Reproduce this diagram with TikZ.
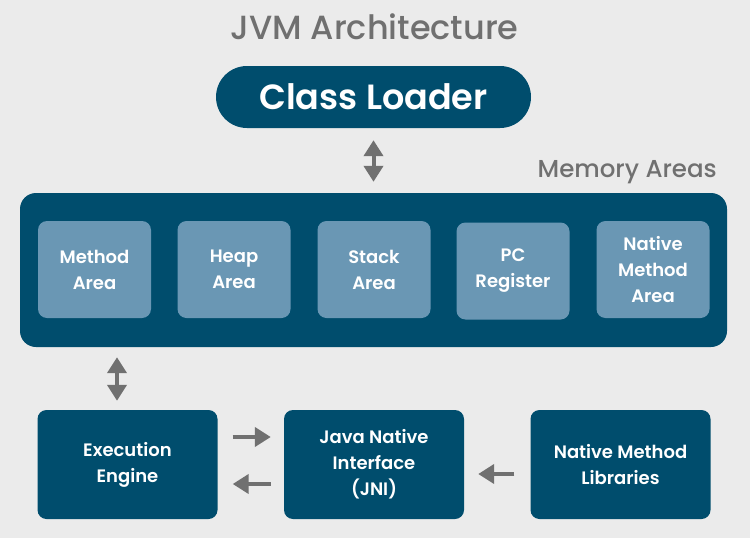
\documentclass[tikz,border=0pt]{standalone}
\usepackage{fontspec}
\setmainfont{Poppins}
\newfontfamily\medfont{Poppins Medium}
\newfontfamily\semifont{Poppins SemiBold}
\usetikzlibrary{positioning}
\usetikzlibrary{arrows.meta}
\definecolor{jvmblue}{HTML}{004D6D}
\definecolor{areablue}{HTML}{6A97B4}
\definecolor{jvmgray}{HTML}{707070}
\definecolor{jvmback}{HTML}{EBEBEB}
\tikzset{
	darkbox/.style={fill=jvmblue,rounded corners=9pt,text=white,align=center,
		minimum width=180pt,minimum height=109pt,
		font=\semifont\fontsize{18}{26}\selectfont},
	areabox/.style={fill=areablue,rounded corners=9pt,text=white,align=center,
		minimum width=113pt,minimum height=97pt,
		font=\semifont\fontsize{18}{26}\selectfont},
	grayarrow/.style={draw=jvmgray,line width=4pt,
		-{Triangle[width=19pt,length=16pt]}},
	twoarrow/.style={draw=jvmgray,line width=4pt,
		{Triangle[width=19pt,length=16pt]}-{Triangle[width=19pt,length=16pt]}}
}

\begin{document}
\begin{tikzpicture}[x=1pt,y=-1pt]
		\fill [jvmback] (0,0) rectangle (750,538);
		\useasboundingbox (0,0) rectangle (750,538);
		\node (title) at (374.5,39) [anchor=base,text=jvmgray,font=\medfont\fontsize{33.5}{38}\selectfont] {JVM Architecture};
		\node (loader) at (373.5,97) [fill=jvmblue,rounded corners=31pt,minimum width=315pt,minimum height=62pt,text=white,font=\semifont\fontsize{35}{40}\selectfont] {Class Loader};
		\node (memlabel) at (717,177) [anchor=base east,inner sep=0pt,text=jvmgray,font=\medfont\fontsize{24.5}{28}\selectfont] {Memory Areas};
		\node (memory) at (373.5,270) [fill=jvmblue,rounded corners=16pt,minimum width=707pt,minimum height=154pt] {};
		\node (method) at (94.5,269.5) [areabox] {Method\\Area};
		\node (heap) at (234,269.5) [areabox] {Heap\\Area};
		\node (stack) at (374,269.5) [areabox] {Stack\\Area};
		\node (pc) at (513,271) [areabox] {PC\\Register};
		\node (native) at (653,269.5) [areabox] {Native\\Method\\Area};
		\node (exec) at (127.5,464.5) [darkbox] {Execution\\Engine};
		\node (jni) at (374,464.5) [darkbox] {Java Native\\Interface\\(JNI)};
		\node (libs) at (620.5,464.5) [darkbox] {Native Method\\Libraries};
		\draw [twoarrow,shorten <=12pt,shorten >=11pt] (loader) -- (memory);
		\draw [twoarrow,shorten <=10pt,shorten >=9pt] ([xshift=-10.5pt]memory.south -| exec) -- ([xshift=-10.5pt]exec.north);
		\draw [grayarrow,shorten <=15pt,shorten >=13pt] ([yshift=27.5pt]exec.east) -- ([yshift=27.5pt]jni.west);
		\draw [grayarrow,shorten <=13pt,shorten >=15pt] ([yshift=-19.5pt]jni.west) -- ([yshift=-19.5pt]exec.east);
		\draw [grayarrow,shorten <=16pt,shorten >=14pt] ([yshift=-9.5pt]libs.west) -- ([yshift=-9.5pt]jni.east);
    \end{tikzpicture}
\end{document}
